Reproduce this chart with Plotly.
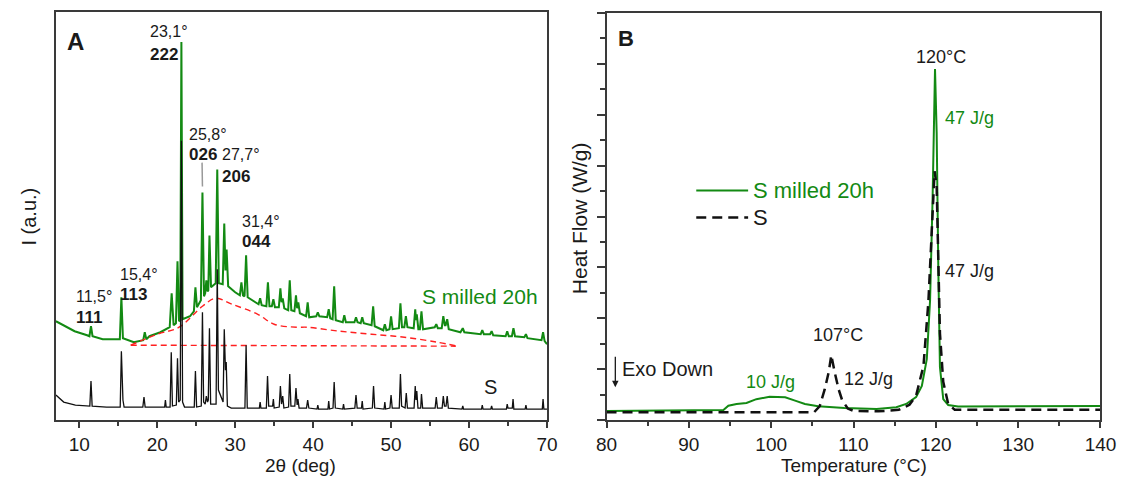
import plotly.graph_objects as go

# ---------------- Panel A : XRD ----------------
xrd_s_deg = [7.0, 8.0, 9.5, 11.35, 11.5, 11.65, 13.5, 15.25, 15.4, 15.5, 15.6, 15.75, 18.15, 18.3, 18.45,
             20.95, 21.05, 21.15, 21.65, 21.8, 21.95, 22.45, 22.6, 22.75, 22.95, 23.1, 23.25, 23.5,
             24.75, 24.9, 25.05, 25.65, 25.8, 25.95, 26.15, 26.3, 26.45, 26.55, 26.7, 26.85, 27.55,
             27.7, 27.85, 28.45, 28.6, 28.75, 28.85, 29.0, 29.5, 31.25, 31.4, 31.55, 33.1, 33.2, 33.3,
             34.0, 34.15, 34.3, 34.8, 34.9, 35.0, 35.65, 35.8, 35.95, 36.1, 36.25, 36.85, 37.0, 37.15,
             37.65, 37.8, 37.95, 38.05, 38.2, 39.15, 39.3, 39.45, 40.5, 40.6, 40.7, 41.9, 42.0, 42.1,
             42.55, 42.7, 42.85, 43.8, 43.9, 44.0, 45.35, 45.5, 45.65, 46.2, 46.3, 46.4, 47.6, 47.75,
             47.9, 49.1, 49.2, 49.3, 49.85, 50.0, 50.15, 51.05, 51.2, 51.35, 51.8, 51.95, 52.1, 52.95,
             53.1, 53.2, 53.3, 53.45, 53.8, 53.9, 54.05, 55.65, 55.8, 55.95, 56.55, 56.7, 56.85, 57.05,
             57.2, 57.35, 59.1, 59.2, 59.3, 61.6, 61.7, 61.8, 62.8, 62.9, 63.0, 64.8, 64.9, 65.0,
             65.55, 65.65, 65.75, 67.2, 67.3, 67.4, 69.4, 69.5, 69.6, 70.0]
xrd_s_int = [25, 18, 15, 14, 39, 14, 13, 13, 69, 31, 20, 13, 13, 23, 13,
             13, 20, 13, 13, 68, 14, 15, 62, 18, 20, 280, 18, 13,
             13, 49, 13, 14, 108, 18, 16, 24, 18, 20, 92, 16, 16,
             151, 30, 18, 91, 50, 58, 14, 12, 12, 75, 12, 12, 18, 12,
             12, 44, 14, 14, 21, 12, 13, 34, 16, 24, 12, 13, 46, 14,
             14, 32, 15, 21, 12, 12, 20, 12, 11, 15, 11, 11, 19, 11,
             12, 38, 12, 11, 16, 11, 12, 25, 12, 12, 19, 11, 12, 34,
             12, 11, 18, 11, 12, 25, 12, 12, 46, 14, 12, 27, 12, 12,
             34, 20, 29, 12, 12, 26, 12, 12, 23, 12, 12, 24, 14, 14,
             24, 12, 11, 14, 11, 11, 15, 11, 11, 14, 11, 11, 16, 12,
             12, 21, 11, 11, 15, 11, 11, 21, 11, 11]

xrd_m_deg = [7.0, 8.0, 9.4, 11.0, 11.3, 11.5, 11.7, 13.0, 15.0, 15.2, 15.4, 15.6, 17.0, 18.2, 18.4, 18.6,
             19.0, 20.4, 21.6, 21.85, 22.1, 22.4, 22.6, 22.8, 22.95, 23.1, 23.25, 24.2, 24.7, 24.9, 25.1,
             25.6, 25.8, 26.0, 26.15, 26.3, 26.45, 26.55, 26.7, 26.9, 27.5, 27.7, 27.9, 28.4, 28.6,
             28.75, 28.9, 29.1, 30.0, 30.6, 30.8, 31.0, 31.2, 31.4, 31.6, 32.5, 33.0, 33.2, 33.4, 34.0,
             34.2, 34.4, 34.7, 34.9, 35.1, 35.6, 35.8, 35.95, 36.1, 36.3, 36.8, 37.0, 37.2, 37.6, 37.8,
             37.95, 38.1, 38.3, 39.1, 39.3, 39.5, 40.4, 40.6, 40.8, 41.8, 42.0, 42.2, 42.5, 42.7, 42.9,
             43.8, 44.0, 44.2, 45.3, 45.5, 45.7, 46.1, 46.3, 46.5, 47.5, 47.7, 47.9, 49.0, 49.2, 49.4,
             49.8, 50.0, 50.2, 51.0, 51.2, 51.4, 51.7, 51.9, 52.1, 52.9, 53.1, 53.2, 53.3, 53.5, 53.7,
             53.9, 54.1, 55.6, 55.8, 56.0, 56.5, 56.7, 56.9, 57.0, 57.2, 57.4, 58.9, 59.2, 59.4, 61.5,
             61.7, 61.9, 62.7, 62.9, 63.1, 64.7, 64.9, 65.1, 65.5, 65.7, 65.9, 67.1, 67.3, 67.5, 69.3,
             69.5, 69.7, 70.0]
xrd_m_int = [99, 95, 89, 85, 84, 94, 84, 81, 81, 81, 123, 82, 78, 80, 88, 81,
             84, 88, 93, 127, 95, 97, 159, 99, 100, 379, 101, 104, 109, 133, 113,
             120, 228, 124, 127, 140, 129, 130, 185, 133, 137, 251, 137, 136, 197,
             150, 171, 134, 128, 125, 138, 125, 124, 165, 123, 118, 116, 122, 115, 114,
             138, 114, 114, 121, 113, 113, 132, 118, 122, 112, 110, 140, 110, 109, 125,
             112, 118, 107, 104, 118, 103, 104, 108, 104, 103, 111, 102, 101, 134, 100,
             98, 105, 98, 98, 103, 98, 97, 103, 97, 95, 114, 94, 90, 96, 90,
             91, 104, 91, 92, 117, 93, 93, 104, 93, 92, 111, 100, 106, 91, 91,
             109, 91, 93, 96, 92, 92, 104, 95, 95, 101, 91, 88, 92, 88, 86,
             90, 86, 86, 89, 85, 84, 89, 84, 84, 92, 84, 83, 86, 82, 80,
             88, 79, 76]

hump_deg = [16.6, 20.0, 22.8, 25.8, 27.5, 29.6, 32.9, 35.0, 37.9, 39.2, 43.4, 47.5, 51.7, 55.9, 58.5]
hump_int = [75, 86, 93, 114, 122, 116, 106, 96, 93, 93, 89, 86, 83, 78, 74]
base_deg = [16.6, 58.3]
base_int = [75, 74]

# ---------------- Panel B : DSC ----------------
dsc_m_T = [80.0, 94.2, 94.8, 95.8, 97.0, 98.2, 99.8, 101.7, 102.9, 104.1, 105.7, 108.9, 112.8, 115.2,
           116.4, 117.6, 118.3, 118.9, 119.3, 119.6, 119.9, 120.1, 120.3, 120.5, 120.9, 121.5, 122.7, 140.0]
dsc_m_hf = [0.35, 0.39, 0.56, 0.63, 0.67, 0.82, 0.91, 0.89, 0.76, 0.63, 0.54, 0.47, 0.43, 0.50,
            0.63, 0.90, 1.34, 2.39, 4.71, 8.63, 13.8, 11.3, 6.0, 2.08, 0.82, 0.59, 0.53, 0.55]
dsc_s_T = [80.0, 105.2, 105.9, 106.5, 107.0, 107.3, 107.7, 108.2, 108.6, 109.3, 110.0, 113.0, 115.5,
           116.8, 117.6, 118.5, 119.1, 119.5, 119.85, 120.1, 120.3, 120.5, 120.9, 121.5, 122.3, 140.0]
dsc_s_hf = [0.30, 0.30, 0.55, 1.2, 1.9, 2.55, 1.9, 1.2, 0.8, 0.45, 0.36, 0.34, 0.40,
            0.6, 0.95, 2.13, 4.67, 7.33, 9.78, 9.2, 6.0, 3.4, 1.5, 0.63, 0.40, 0.40]

GREEN = "#138a13"
RED = "#ff2020"
FONT = "Liberation Sans, Arial, sans-serif"
TXT = "#1a1a1a"
AX = "#3a3a3a"

fig = go.Figure()
fig.add_trace(go.Scatter(x=xrd_m_deg, y=xrd_m_int, mode="lines", line=dict(color=GREEN, width=2),
                         xaxis="x", yaxis="y", showlegend=False))
fig.add_trace(go.Scatter(x=hump_deg, y=hump_int, mode="lines", line=dict(color=RED, width=1.4, dash="6px,4px", shape="spline"),
                         xaxis="x", yaxis="y", showlegend=False))
fig.add_trace(go.Scatter(x=base_deg, y=base_int, mode="lines", line=dict(color=RED, width=1.4, dash="6px,4px"),
                         xaxis="x", yaxis="y", showlegend=False))
fig.add_trace(go.Scatter(x=xrd_s_deg, y=xrd_s_int, mode="lines", line=dict(color="#111111", width=1.3),
                         xaxis="x", yaxis="y", showlegend=False))
fig.add_trace(go.Scatter(x=dsc_m_T, y=dsc_m_hf, mode="lines", line=dict(color=GREEN, width=2),
                         xaxis="x2", yaxis="y2", showlegend=False))
fig.add_trace(go.Scatter(x=dsc_s_T, y=dsc_s_hf, mode="lines", line=dict(color="#111111", width=2.5, dash="10px,6px"),
                         xaxis="x2", yaxis="y2", showlegend=False))

W, H = 1137, 477
BOT = 420

common_axis = dict(showline=True, linecolor=AX, linewidth=1.5, mirror=True, showgrid=False, zeroline=False)
fig.update_layout(
    width=W, height=H, margin=dict(l=0, r=0, t=0, b=0),
    paper_bgcolor="white", plot_bgcolor="white",
    font=dict(family=FONT, color=TXT),
    xaxis=dict(domain=[46 / W, 549 / W], range=[7, 70], anchor="y", tickmode="linear", tick0=10, dtick=10,
               ticks="outside", ticklen=6, tickwidth=1.5, tickcolor=AX,
               minor=dict(tickmode="linear", tick0=5, dtick=5, ticks="outside", ticklen=4, tickwidth=1.5, tickcolor=AX),
               tickfont=dict(size=19, color=TXT, family=FONT), **common_axis),
    yaxis=dict(domain=[1 - BOT / H, 1 - 12 / H], range=[0, 409], anchor="x", ticks="", showticklabels=False,
               **common_axis),
    xaxis2=dict(domain=[610 / W, 1116 / W], range=[80, 140], anchor="y2", tickmode="linear", tick0=80, dtick=10,
                ticks="outside", ticklen=6, tickwidth=1.5, tickcolor=AX,
                minor=dict(tickmode="linear", tick0=85, dtick=5, ticks="outside", ticklen=4, tickwidth=1.5, tickcolor=AX),
                tickfont=dict(size=19, color=TXT, family=FONT), **common_axis),
    yaxis2=dict(domain=[1 - BOT / H, 1 - 13 / H], range=[0, 16], anchor="x2", tickmode="linear", tick0=0, dtick=2,
                ticks="outside", ticklen=8, tickwidth=1.5, tickcolor=AX, showticklabels=False,
                minor=dict(tickmode="linear", tick0=1, dtick=2, ticks="outside", ticklen=5, tickwidth=1.5, tickcolor=AX),
                **common_axis),
)

ann = []
def t(text, x, y, xr, yr, size, color=TXT, xa="left", ya="middle", bold=False, angle=0):
    ann.append(dict(text=("<b>%s</b>" % text) if bold else text, x=x, y=y, xref=xr, yref=yr, showarrow=False,
                    xanchor=xa, yanchor=ya, textangle=angle, borderpad=0,
                    font=dict(size=size, color=color, family=FONT)))

# Panel A labels
t("A", 9.5, 379, "x", "y", 24, xa="center", bold=True)
t("11,5°", 9.4, 124, "x", "y", 16)
t("111", 9.4, 103, "x", "y", 17, bold=True)
t("15,4°", 15.1, 146, "x", "y", 16)
t("113", 15.1, 126, "x", "y", 17, bold=True)
t("23,1°", 18.9, 389, "x", "y", 16)
t("222", 18.9, 366, "x", "y", 17, bold=True)
t("25,8°", 23.9, 286, "x", "y", 16)
t("026", 23.9, 266, "x", "y", 17, bold=True)
t("27,7°", 28.2, 266, "x", "y", 16)
t("206", 28.2, 244, "x", "y", 17, bold=True)
t("31,4°", 30.8, 199, "x", "y", 16)
t("044", 30.8, 179, "x", "y", 17, bold=True)
t("S milled 20h", 61.4, 124, "x", "y", 21, color=GREEN, xa="center")
t("S", 62.8, 33, "x", "y", 20, xa="center")
t("2θ (deg)", 297 / W, 1 - 477 / H, "paper", "paper", 19, xa="center", ya="bottom")
t("I (a.u.)", 18 / W, 1 - 217 / H, "paper", "paper", 20, xa="center", angle=-90)

# Panel B labels
t("B", 82.4, 15.0, "x2", "y2", 22, xa="center", bold=True)
t("120°C", 120.67, 14.27, "x2", "y2", 18, xa="center")
t("47 J/g", 121.0, 11.88, "x2", "y2", 18, color=GREEN)
t("47 J/g", 121.0, 5.84, "x2", "y2", 18)
t("107°C", 108.1, 3.33, "x2", "y2", 18, xa="center")
t("12 J/g", 108.7, 1.61, "x2", "y2", 18)
t("10 J/g", 99.9, 1.49, "x2", "y2", 18, color=GREEN, xa="center")
t("Exo Down", 81.8, 2.0, "x2", "y2", 20)
t("S milled 20h", 97.7, 9.02, "x2", "y2", 22, color=GREEN)
t("S", 97.7, 7.96, "x2", "y2", 22)
t("Heat Flow (W/g)", 582 / W, 1 - 218 / H, "paper", "paper", 21, xa="center", angle=-90)
t("Temperature (°C)", 863 / W, 1 - 477 / H, "paper", "paper", 19, xa="center", ya="bottom")

# Exo Down arrow
ann.append(dict(x=81.07, y=1.29, ax=81.07, ay=2.55, xref="x2", yref="y2", axref="x2", ayref="y2", text="",
                showarrow=True, arrowhead=2, arrowsize=1, arrowwidth=1.3, arrowcolor=TXT))
fig.update_layout(annotations=ann)

# legend samples for panel B and leader tick in panel A
fig.add_shape(type="line", xref="x2", yref="y2", x0=90.9, x1=97.2, y0=9.02, y1=9.02, line=dict(color=GREEN, width=2))
fig.add_shape(type="line", xref="x2", yref="y2", x0=90.9, x1=97.2, y0=7.96, y1=7.96,
              line=dict(color="#111111", width=2.5, dash="10px,6px"))
fig.add_shape(type="line", xref="x", yref="y", x0=25.8, x1=25.75, y0=234, y1=258, line=dict(color="#999999", width=1.5))

fig.write_html("out.html")
